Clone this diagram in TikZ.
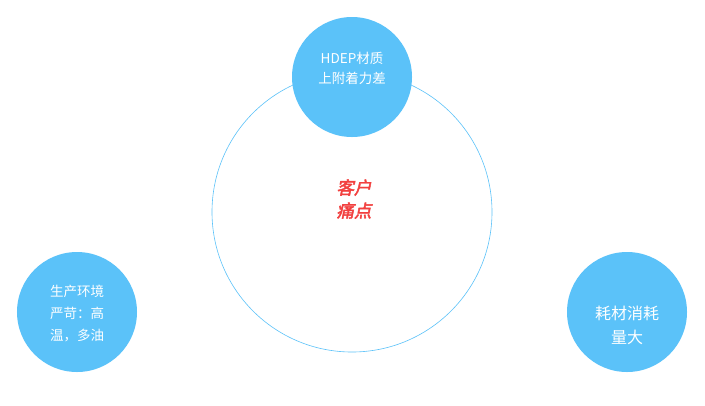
\documentclass[tikz,border=0pt]{standalone}
\usepackage{fontspec}
\newfontfamily\cjk{Noto Sans CJK SC}
\newfontfamily\cjkbi[FakeSlant=0.2,FakeBold=2.5]{Noto Sans CJK SC}
\definecolor{blu}{HTML}{5BC2F9}
\definecolor{redt}{HTML}{F2403F}
\tikzset{
  dot/.style={circle,fill=blu,draw=none,minimum size=120bp,inner sep=0pt},
  dottext/.style={text=white,align=center,inner sep=0pt},
  ring/.style={circle,draw=blu,line width=0.6bp,minimum size=280bp,inner sep=0pt},
}
\begin{document}
\begin{tikzpicture}[x=1bp,y=-1bp]
\useasboundingbox[fill=white] (0,0) rectangle (705,405);
\node[ring] (big) at (352,212) {};
\node[text=redt,align=center,font=\cjkbi\fontsize{17.5bp}{23bp}\selectfont] (center) at (354,199) {客户\\痛点};
\node[dot] (top) at (352,77) {};
\node[dottext,font=\cjk\fontsize{13.5bp}{20bp}\selectfont] (toptext) at (352,68) {HDEP材质\\上附着力差};
\node[dot] (left) at (77,312) {};
\node[dottext,font=\cjk\fontsize{13.5bp}{22bp}\selectfont] (lefttext) at (77,314) {生产环境\\严苛：高\\温，多油};
\node[dot] (right) at (627,312) {};
\node[dottext,font=\cjk\fontsize{16bp}{24bp}\selectfont] (righttext) at (627,325) {耗材消耗\\量大};
\end{tikzpicture}
\end{document}
